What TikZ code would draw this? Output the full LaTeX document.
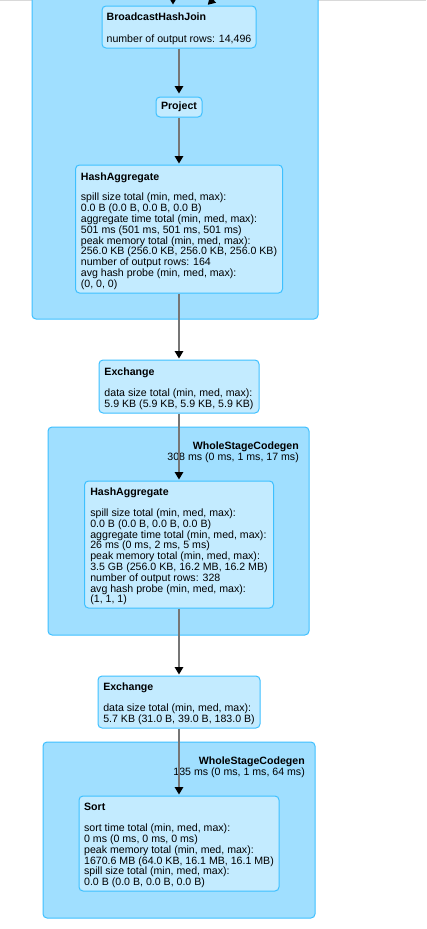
\documentclass[tikz,border=0pt]{standalone}
\usepackage{fontspec}
\setmainfont{Liberation Sans}
\usetikzlibrary{arrows.meta}
\definecolor{clusterfill}{HTML}{A0DFFF}
\definecolor{opfill}{HTML}{C3EBFF}
\definecolor{planblue}{HTML}{3EC0FF}
\definecolor{edgegray}{HTML}{767676}
% title line of an operator box, with a taller strut so the text sits lower
\newcommand{\optitle}[1]{\rule{0pt}{11.7pt}\textbf{#1}}

\begin{document}
\begin{tikzpicture}[x=1pt, y=-1pt,
        op/.style={draw=planblue, fill=opfill, rounded corners=4pt, line width=1pt, align=left, inner sep=0pt, font=\fontsize{10.6}{10.8}\selectfont},
        cluster/.style={draw=planblue, fill=clusterfill, rounded corners=4pt, line width=1pt},
        stagelabel/.style={align=right, anchor=east, inner sep=0pt, font=\fontsize{10.6}{11}\selectfont},
        flow/.style={draw=edgegray, line width=1.6pt, shorten >=1pt, -{Triangle[length=7.5pt, width=8.5pt, color=black]}}]
        \useasboundingbox (0, 0) rectangle (426, 929);
        \clip (0, 0) rectangle (426, 929);
        \fill[white] (0, 0) rectangle (426, 929);
        \draw[draw=black!15, line width=1pt] (0, 0.5) -- (426, 0.5);
        
        % stages
        \draw[cluster] (32, -10) rectangle (318, 319);
        \draw[cluster] (48, 427) rectangle (309, 635);
        \draw[cluster] (43, 742) rectangle (315, 918);
        
        \node (wsc1) at (299, 452) [stagelabel] {\textbf{WholeStageCodegen}\\308 ms (0 ms, 1 ms, 17 ms)};
        \node (wsc2) at (305, 767) [stagelabel] {\textbf{WholeStageCodegen}\\135 ms (0 ms, 1 ms, 64 ms)};
        
        % operators
        \node (bhj) at (179, 27) [op, minimum width=154, minimum height=42] {\optitle{BroadcastHashJoin}\\[11pt]
            number of output rows: 14,496};
        \node (proj) at (179, 107) [op, minimum width=46, minimum height=20] {\textbf{Project}};
        \node (agg1) at (179, 229) [op, minimum width=207, minimum height=128] {\optitle{HashAggregate}\\[10pt]
            spill size total (min, med, max):\\
            0.0 B (0.0 B, 0.0 B, 0.0 B)\\
            aggregate time total (min, med, max):\\
            501 ms (501 ms, 501 ms, 501 ms)\\
            peak memory total (min, med, max):\\
            256.0 KB (256.0 KB, 256.0 KB, 256.0 KB)\\
            number of output rows: 164\\
            avg hash probe (min, med, max):\\
            (0, 0, 0)};
        \node (ex1) at (179, 386.5) [op, minimum width=160, minimum height=53] {\optitle{Exchange}\\[10pt]
            data size total (min, med, max):\\
            5.9 KB (5.9 KB, 5.9 KB, 5.9 KB)};
        \node (agg2) at (179, 544.5) [op, minimum width=189, minimum height=127] {\optitle{HashAggregate}\\[10pt]
            spill size total (min, med, max):\\
            0.0 B (0.0 B, 0.0 B, 0.0 B)\\
            aggregate time total (min, med, max):\\
            26 ms (0 ms, 2 ms, 5 ms)\\
            peak memory total (min, med, max):\\
            3.5 GB (256.0 KB, 16.2 MB, 16.2 MB)\\
            number of output rows: 328\\
            avg hash probe (min, med, max):\\
            (1, 1, 1)};
        \node (ex2) at (179, 702) [op, minimum width=162, minimum height=52] {\optitle{Exchange}\\[10pt]
            data size total (min, med, max):\\
            5.7 KB (31.0 B, 39.0 B, 183.0 B)};
        \node (sort) at (179, 843.5) [op, minimum width=200, minimum height=95] {\optitle{Sort}\\[10pt]
            sort time total (min, med, max):\\
            0 ms (0 ms, 0 ms, 0 ms)\\
            peak memory total (min, med, max):\\
            1670.6 MB (64.0 KB, 16.1 MB, 16.1 MB)\\
            spill size total (min, med, max):\\
            0.0 B (0.0 B, 0.0 B, 0.0 B)};
        
        % edges coming in from above
        \coordinate (inleft) at (173, -40);
        \coordinate (inright) at (247, -34);
        \draw[flow] (inleft) -- (inleft |- bhj.north);
        \draw[flow] (inright) -- ([xshift=28pt]bhj.north);
        
        \draw[flow, shorten >=3pt] (bhj) -- (proj);
        \draw[flow] (proj) -- (agg1);
        \draw[flow] (agg1) -- (ex1);
        \draw[flow] (ex1) -- (agg2);
        \draw[flow] (agg2) -- (ex2);
        \draw[flow] (ex2) -- (sort);
    \end{tikzpicture}
\end{document}
